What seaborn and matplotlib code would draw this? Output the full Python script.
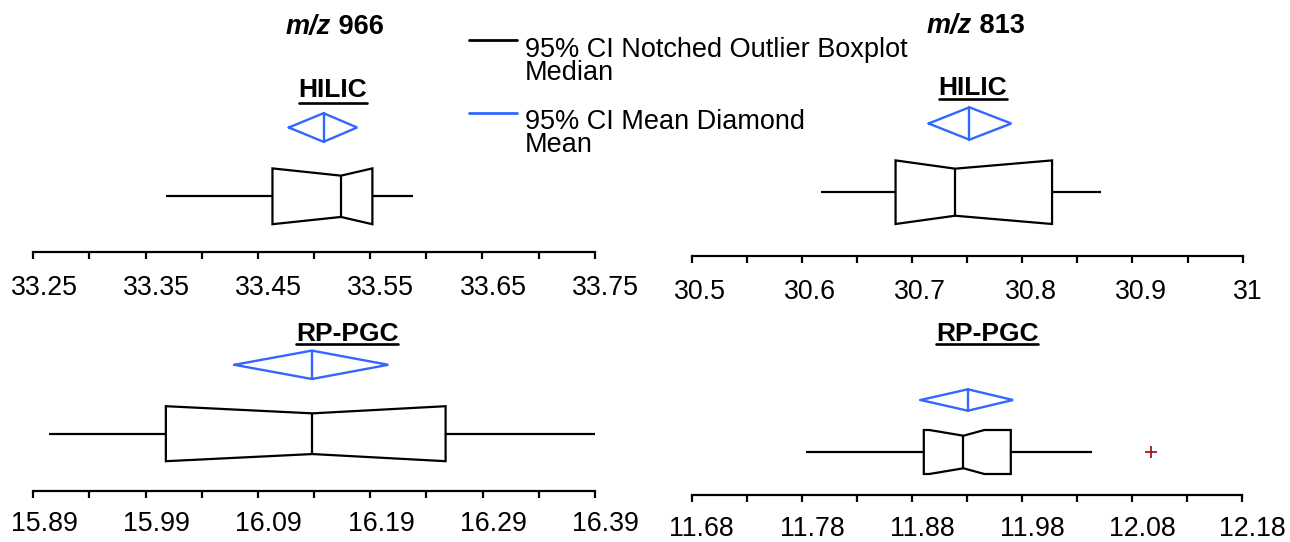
import numpy as np
import pandas as pd
import matplotlib
matplotlib.use("Agg")
import matplotlib.pyplot as plt
import seaborn as sns
from matplotlib.path import Path
from matplotlib.patches import PathPatch
from matplotlib.lines import Line2D
from matplotlib.transforms import ScaledTranslation

# ---------------- data ----------------
title_prefix = "m/z"
compound_masses = ["966", "813"]
section_labels = ["HILIC", "HILIC", "RP-PGC", "RP-PGC"]
panels = ["m/z 966 HILIC", "m/z 813 HILIC", "m/z 966 RP-PGC", "m/z 813 RP-PGC"]

whisker_lo = [33.368, 30.617, 15.904, 11.784]
q1 = [33.463, 30.685, 16.008, 11.891]
median = [33.524, 30.739, 16.1385, 11.927]
q3 = [33.552, 30.827, 16.257, 11.970]
whisker_hi = [33.588, 30.871, 16.391, 12.044]
outliers = [[], [], [], [12.097]]
notch_lo = [33.463, 30.685, 16.008, 11.896]
notch_hi = [33.552, 30.827, 16.257, 11.946]

mean = [33.5085, 30.752, 16.138, 11.931]
mean_ci_lo = [33.4775, 30.715, 16.069, 11.888]
mean_ci_hi = [33.5384, 30.790, 16.206, 11.972]

tick_labels = [
    ["33.25", "33.35", "33.45", "33.55", "33.65", "33.75"],
    ["30.5", "30.6", "30.7", "30.8", "30.9", "31"],
    ["15.89", "15.99", "16.09", "16.19", "16.29", "16.39"],
    ["11.68", "11.78", "11.88", "11.98", "12.08", "12.18"],
]

legend_labels = ["95% CI Notched Outlier Boxplot\nMedian", "95% CI Mean Diamond\nMean"]

# ---------------- style ----------------
sns.set_style("white")
plt.rcParams["font.family"] = ["Liberation Sans", "DejaVu Sans"]
plt.rcParams["text.color"] = "black"
plt.rcParams["axes.labelcolor"] = "black"
plt.rcParams["xtick.color"] = "black"

BLUE = "#3366FF"
RED = "#9E1A1A"
LW = 1.6
NOTCH_RATIO = 0.74
FS = 19.3
LEG_FS = 19.5

W, H = 1290, 542
fig = plt.figure(figsize=(W / 100, H / 100), dpi=100)
fig.patch.set_facecolor("white")


def fx(px):
    return px / W


def fy(py):
    return 1 - py / H


# pixel layout of each panel
layout = [
    dict(x0=33.3, x1=594.7, yb=251.5, yt=60, yc=196.3, half=27.9, yd=127.5, hd=14.3, pad=11.9),
    dict(x0=691.7, x1=1242.7, yb=256.0, yt=60, yc=192.2, half=31.8, yd=123.5, hd=16.2, pad=11.9),
    dict(x0=33.3, x1=595.0, yb=490.8, yt=300, yc=433.7, half=27.5, yd=364.8, hd=14.2, pad=9.8),
    dict(x0=691.5, x1=1242.0, yb=495.3, yt=300, yc=452.0, half=22.0, yd=400.0, hd=10.7, pad=9.6),
]
label_pos = [(333, 97), (973, 95), (347, 340.7), (987, 340.7)]
underline_y = [103, 98.5, 343.5, 344]
title_pos = [(335, 34), (976, 33)]

axes = []
for i, L in enumerate(layout):
    ax = fig.add_axes([fx(L["x0"]), fy(L["yb"]), (L["x1"] - L["x0"]) / W,
                       (L["yb"] - L["yt"]) / H])
    if outliers[i]:
        sample = [whisker_lo[i], q1[i], q1[i], median[i], median[i], median[i],
                  q3[i], whisker_hi[i]] + outliers[i]
    else:
        sample = [whisker_lo[i], q1[i], median[i], q3[i], whisker_hi[i]]
    df = pd.DataFrame({"value": sample, "group": panels[i]})
    sns.boxplot(data=df, x="value", y="group", orient="y", ax=ax, width=0.8,
                notch=True, showcaps=False, color="white", linecolor="black",
                linewidth=LW, saturation=1, fliersize=8,
                flierprops=dict(marker="+", markeredgecolor=RED,
                                markerfacecolor=RED, markeredgewidth=1.3))

    # notch shape: clip the CI of the median to the given values, wider notch
    for p in ax.patches:
        if isinstance(p, PathPatch):
            path = p.get_path()
            v = np.array(path.vertices, dtype=float)
            if len(v) >= 11:
                c = (v[0, 1] + v[1, 1]) / 2
                v[[2, 9], 0] = notch_lo[i]
                v[[4, 7], 0] = notch_hi[i]
                v[3, 1] = c + (v[1, 1] - c) * NOTCH_RATIO
                v[8, 1] = c + (v[0, 1] - c) * NOTCH_RATIO
                p.set_path(Path(v, path.codes))
    for ln in ax.lines:
        xd = np.asarray(ln.get_xdata(), float)
        ydat = np.asarray(ln.get_ydata(), float)
        if len(xd) == 2 and np.isclose(xd[0], xd[1]) and not np.isclose(ydat[0], ydat[1]):
            c = ydat.mean()
            ln.set_ydata(c + (ydat - c) * NOTCH_RATIO / 0.5)

    unit = L["half"] / 0.4
    d = (L["yd"] - L["yc"]) / unit
    dh = L["hd"] / unit
    ax.plot([mean_ci_lo[i], mean[i], mean_ci_hi[i], mean[i], mean_ci_lo[i]],
            [d, d - dh, d, d + dh, d], color=BLUE, lw=1.7, clip_on=False,
            solid_joinstyle="miter")
    ax.plot([mean[i], mean[i]], [d - dh, d + dh], color=BLUE, lw=1.7, clip_on=False)

    ax.set_ylim((L["yb"] - L["yc"]) / unit, (L["yt"] - L["yc"]) / unit)
    ticks = [float(t) for t in tick_labels[i]]
    ax.set_xlim(ticks[0], ticks[-1])
    ax.set_xticks(ticks)
    ax.set_xticklabels(tick_labels[i])
    ax.set_xticks([(a + b) / 2 for a, b in zip(ticks[:-1], ticks[1:])], minor=True)
    ax.tick_params(axis="x", which="both", direction="out", length=5.0, width=LW,
                   color="black", pad=L["pad"], labelsize=FS, bottom=True,
                   labelcolor="black")
    ax.set_yticks([])
    ax.set_xlabel("")
    ax.set_ylabel("")
    for s in ["top", "left", "right"]:
        ax.spines[s].set_visible(False)
    ax.spines["bottom"].set_linewidth(LW)
    ax.spines["bottom"].set_color("black")
    ax.patch.set_alpha(0)
    axes.append(ax)

# titles: italic bold "m/z" + bold mass
title_parts = []
for (px, py), mass in zip(title_pos, compound_masses):
    t1 = fig.text(fx(px), fy(py), title_prefix, ha="left", va="baseline",
                  fontsize=19.5, fontweight="bold", fontstyle="italic")
    t2 = fig.text(fx(px), fy(py), " " + mass, ha="left", va="baseline",
                  fontsize=19.5, fontweight="bold")
    title_parts.append((px, t1, t2))

# section labels
sec_texts = []
for (px, py), t in zip(label_pos, section_labels):
    sec_texts.append(fig.text(fx(px), fy(py), t, ha="center", va="baseline",
                              fontsize=19, fontweight="bold"))

# legend (manual layout)
leg_colors = ["black", BLUE]
leg_line_y = [40, 113]
leg_base_y = [[57, 80.5], [128.5, 152]]
for col, ly, bases, lab in zip(leg_colors, leg_line_y, leg_base_y, legend_labels):
    fig.add_artist(Line2D([fx(469), fx(517)], [fy(ly), fy(ly)], color=col, lw=2.0,
                          transform=fig.transFigure))
    for by, txt in zip(bases, lab.split("\n")):
        fig.text(fx(525), fy(by), txt, ha="left", va="baseline", fontsize=LEG_FS)

fig.canvas.draw()

# center the two-part titles
for px, t1, t2 in title_parts:
    w1 = t1.get_window_extent().width
    w2 = t2.get_window_extent().width
    left = px - (w1 + w2) / 2
    t1.set_x(fx(left))
    t2.set_x(fx(left + w1))

# underline section labels
for t, uy in zip(sec_texts, underline_y):
    bb = t.get_window_extent()
    fig.add_artist(Line2D([bb.x0 / W, bb.x1 / W], [fy(uy), fy(uy)], color="black",
                          lw=1.9, transform=fig.transFigure))

# tick labels sit slightly to the right of their ticks in the reference
for ax in axes:
    for tick in ax.xaxis.get_major_ticks():
        lab = tick.label1
        w = lab.get_window_extent().width
        lab.set_transform(lab.get_transform() +
                          ScaledTranslation(0.16 * w / 100, 0, fig.dpi_scale_trans))

fig.savefig("out.png", dpi=100, facecolor="white")
